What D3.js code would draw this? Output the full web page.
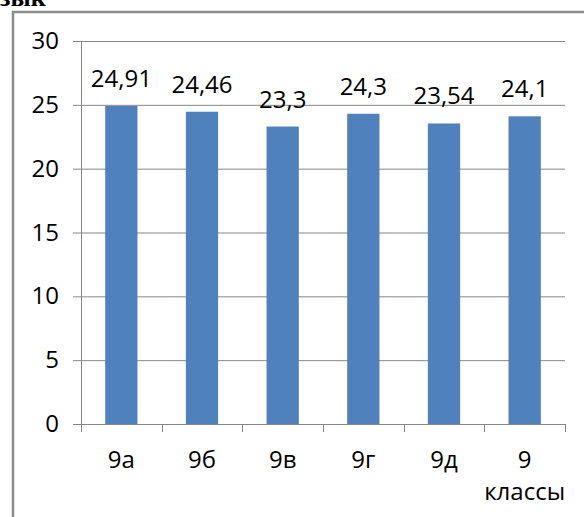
<!DOCTYPE html>
<html>
<head>
<meta charset="utf-8">
<script src="https://cdn.jsdelivr.net/npm/d3@7"></script>
<style>
  body { margin: 0; background: #fff; }
  svg { display: block; }
</style>
</head>
<body>
<svg width="584" height="517"></svg>
<script>
// значения по классам
var classes = ["9а", "9б", "9в", "9г", "9д", "9 классы"];
var values = [24.91, 24.46, 23.3, 24.3, 23.54, 24.1];
var yTicks = [0, 5, 10, 15, 20, 25, 30];

var svg = d3.select("svg");
var font = "'Open Sans', 'Noto Sans', sans-serif";
var gray = "#868686";

// заголовок, обрезанный сверху
svg.append("text")
    .attr("x", -14)
    .attr("y", 6)
    .attr("font-family", "'Liberation Serif', serif")
    .attr("font-weight", "bold")
    .attr("font-size", 26)
    .attr("fill", "#000")
    .text("язык");

// рамка
svg.append("rect")
    .attr("x", 13)
    .attr("y", 12)
    .attr("width", 600)
    .attr("height", 600)
    .attr("fill", "none")
    .attr("stroke", "#8c8c8c")
    .attr("stroke-width", 2.5);

var x = d3.scaleBand()
    .domain(classes)
    .range([81, 565])
    .paddingInner(0.6)
    .paddingOuter(0.3);

var y = d3.scaleLinear()
    .domain([0, 30])
    .range([424, 41]);

// сетка
svg.selectAll(".grid")
    .data(yTicks)
    .enter()
    .append("line")
    .attr("class", "grid")
    .attr("x1", 73)
    .attr("x2", 565)
    .attr("y1", d => y(d) + 0.5)
    .attr("y2", d => y(d) + 0.5)
    .attr("stroke", gray)
    .attr("stroke-width", 1);

// подписи оси Y
svg.selectAll(".ylab")
    .data(yTicks)
    .enter()
    .append("text")
    .attr("class", "ylab")
    .attr("x", 59)
    .attr("y", d => y(d) + 8)
    .attr("text-anchor", "end")
    .attr("font-family", font)
    .attr("font-size", 24)
    .attr("fill", "#000")
    .text(d => d);

// столбцы
svg.selectAll(".bar")
    .data(values)
    .enter()
    .append("rect")
    .attr("class", "bar")
    .attr("x", (d, i) => x(classes[i]))
    .attr("y", d => y(d))
    .attr("width", x.bandwidth())
    .attr("height", d => y(0) - y(d))
    .attr("fill", "#4f81bd");

// подписи значений
svg.selectAll(".vlab")
    .data(values)
    .enter()
    .append("text")
    .attr("class", "vlab")
    .attr("x", (d, i) => x(classes[i]) + x.bandwidth() / 2)
    .attr("y", d => y(d) - 19)
    .attr("text-anchor", "middle")
    .attr("font-family", font)
    .attr("font-size", 24)
    .attr("fill", "#000")
    .text(d => String(d).replace(".", ","));

// оси
svg.append("line")
    .attr("x1", 81.5).attr("x2", 81.5)
    .attr("y1", y(30)).attr("y2", y(0) + 8)
    .attr("stroke", gray);

var step = x.step();
var edges = d3.range(classes.length + 1).map(i => 81 + i * step);
svg.selectAll(".xtick")
    .data(edges)
    .enter()
    .append("line")
    .attr("class", "xtick")
    .attr("x1", d => Math.round(d) + 0.5)
    .attr("x2", d => Math.round(d) + 0.5)
    .attr("y1", y(0))
    .attr("y2", y(0) + 8)
    .attr("stroke", gray);

// подписи категорий
var xl = svg.selectAll(".xlab")
    .data(classes)
    .enter()
    .append("text")
    .attr("class", "xlab")
    .attr("text-anchor", "middle")
    .attr("font-family", font)
    .attr("font-size", 24)
    .attr("fill", "#000");

xl.each(function(d) {
    var cx = x(d) + x.bandwidth() / 2;
    var words = d.split(" ");
    var t = d3.select(this);
    words.forEach(function(w, k) {
        t.append("tspan")
            .attr("x", cx)
            .attr("y", 468 + k * 32)
            .text(w);
    });
});
</script>
</body>
</html>
